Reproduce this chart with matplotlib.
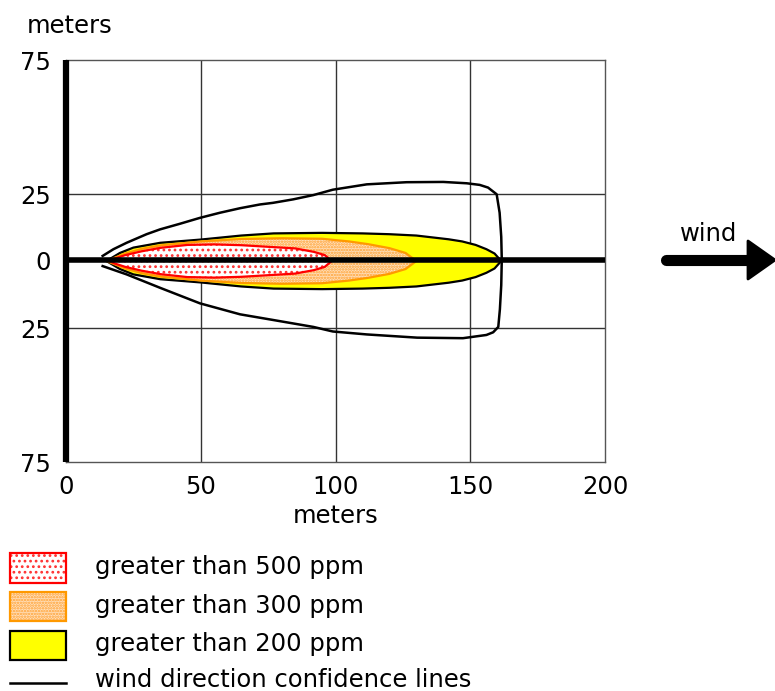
import matplotlib
matplotlib.use("Agg")
import matplotlib.pyplot as plt
from matplotlib.patches import Rectangle, Polygon
import numpy as np

# ---- data ----
red_x = [16, 18, 22, 28, 35, 45, 55, 65, 75, 85, 92, 96, 98.6]
red_hw = [0, 0.9, 2.2, 3.6, 4.9, 6.0, 6.2, 5.9, 5.3, 4.7, 3.4, 2.2, 0]

orange_x = [15, 18, 22, 28, 35, 50, 65, 80, 95, 105, 112, 120, 126, 130]
orange_hw = [0, 1.2, 2.8, 4.5, 5.8, 7.3, 8.2, 8.5, 8.3, 7.3, 6.3, 4.8, 3.0, 0]

yellow_x = [15, 20, 25, 35, 50, 65, 77, 95, 110, 120, 130, 136, 142, 147, 152, 156, 159, 161.5]
yellow_hw = [0, 3.0, 5.0, 6.8, 8.0, 9.5, 10.3, 10.5, 10.3, 10.0, 9.5, 8.8, 8.1, 7.3, 6.0, 4.4, 2.8, 0]

conf_x = [13.6, 17.6, 22.5, 29.9, 34.9, 42.3, 49.7, 57.1, 64.6, 72, 76.8, 84.3, 91.8, 99,
          111.6, 126.4, 140, 148.7, 153.5, 156.6, 159.8, 160.9, 161.5, 161.7,
          161.5, 161.0, 160.4, 158.5, 156.0, 147.3, 130.3, 111.6, 99, 91.8, 76.8, 64.6,
          49.7, 34.9, 22.5, 13.6]
conf_y = [1.9, 4.4, 6.8, 10.0, 11.8, 13.9, 16.1, 18.0, 19.7, 21.1, 21.7, 23.0, 24.6, 26.6,
          28.6, 29.4, 29.5, 29.0, 28.4, 27.4, 24.9, 18, 9, 0.5,
          -9, -18, -24.6, -26.6, -27.6, -28.8, -28.6, -27.4, -26.3, -24.6, -22.0, -19.9,
          -15.8, -10.0, -5.0, -1.9]

x_ticks = [0, 50, 100, 150, 200]
x_ticklabels = ["0", "50", "100", "150", "200"]
y_ticks = [75, 25, 0, -25, -75]
y_ticklabels = ["75", "25", "0", "25", "75"]

legend_labels = ["greater than 500 ppm", "greater than 300 ppm",
                 "greater than 200 ppm", "wind direction confidence lines"]

plt.rcParams['font.family'] = ['DejaVu Sans']
plt.rcParams['hatch.linewidth'] = 1.2
FS = 17.5

W, H = 775, 691
fig = plt.figure(figsize=(W / 100, H / 100), dpi=100)
ax = fig.add_axes([66 / W, 1 - 462 / H, (605 - 66) / W, (462 - 60) / H])
ax.set_xlim(0, 200)
ax.set_ylim(-75, 75)

def zone(xs, hw):
    xs = np.asarray(xs, float)
    hw = np.asarray(hw, float)
    px = np.concatenate([xs, xs[::-1]])
    py = np.concatenate([hw, -hw[::-1]])
    return np.column_stack([px, py])

# grid
for gx in [50, 100, 150]:
    ax.axvline(gx, color='#333333', lw=1.0, zorder=1)
for gy in [25, -25]:
    ax.axhline(gy, color='#333333', lw=1.0, zorder=1)

# yellow zone
yp = zone(yellow_x, yellow_hw)
ax.add_patch(Polygon(yp, closed=True, facecolor='#FFFF00', edgecolor='black', lw=1.6, zorder=2))
# orange zone
op = zone(orange_x, orange_hw)
ax.add_patch(Polygon(op, closed=True, facecolor='#FFE0BC', edgecolor='none', lw=0, zorder=3))
ax.add_patch(Polygon(op, closed=True, facecolor='none', edgecolor='#FFA030', lw=0,
                     hatch='......', zorder=3.1))
ax.add_patch(Polygon(op, closed=True, facecolor='none', edgecolor='#FF9900', lw=1.6, zorder=3.2))
# red zone
rp = zone(red_x, red_hw)
ax.add_patch(Polygon(rp, closed=True, facecolor='white', edgecolor='none', lw=0, zorder=4))
ax.add_patch(Polygon(rp, closed=True, facecolor='none', edgecolor='#FF3030', lw=0,
                     hatch='...', zorder=4.1))
ax.add_patch(Polygon(rp, closed=True, facecolor='none', edgecolor='#FF0000', lw=1.6, zorder=4.2))

# confidence lines
ax.plot(conf_x, conf_y, color='black', lw=1.8, zorder=5, solid_joinstyle='round')

# axes lines
ax.plot([0, 200], [0.4, 0.4], color='black', lw=4, zorder=6, solid_capstyle='butt')
ax.plot([0, 0], [75, -75], color='black', lw=4.5, zorder=6, clip_on=False, solid_capstyle='butt')

for s in ax.spines.values():
    s.set_color('#555555')
    s.set_linewidth(1.0)

ax.set_xticks(x_ticks)
ax.set_xticklabels(x_ticklabels)
ax.set_yticks(y_ticks)
ax.set_yticklabels(y_ticklabels)
ax.tick_params(length=0, labelsize=FS)
ax.tick_params(axis='x', pad=9)
ax.tick_params(axis='y', pad=11)
ax.set_xlabel("meters", fontsize=FS, labelpad=4)

# overlay in figure pixel coords
ov = fig.add_axes([0, 0, 1, 1], zorder=-1)
ov.set_xlim(0, W)
ov.set_ylim(H, 0)
ov.axis('off')
ov.patch.set_alpha(0)

ov.text(70, 26, "meters", fontsize=FS, ha='center', va='center')

# wind arrow
ov.plot([666, 752], [260, 260], color='black', lw=8, solid_capstyle='round')
ov.add_patch(Polygon([[748, 241], [775, 260], [748, 279]], closed=True,
                     facecolor='black', edgecolor='black', lw=2, joinstyle='round'))
ov.text(709, 234, "wind", fontsize=FS, ha='center', va='center')

# legend
ly = [567, 606, 644, 680]
ov.add_patch(Rectangle((10, 553), 56, 30, facecolor='white', edgecolor='none'))
ov.add_patch(Rectangle((10, 553), 56, 30, facecolor='none', edgecolor='#FF3030', lw=0, hatch='...'))
ov.add_patch(Rectangle((10, 553), 56, 30, facecolor='none', edgecolor='#FF0000', lw=1.6))
ov.add_patch(Rectangle((10, 592), 56, 29, facecolor='#FFE0BC', edgecolor='none'))
ov.add_patch(Rectangle((10, 592), 56, 29, facecolor='none', edgecolor='#FFA030', lw=0, hatch='......'))
ov.add_patch(Rectangle((10, 592), 56, 29, facecolor='none', edgecolor='#FF9900', lw=1.6))
ov.add_patch(Rectangle((10, 631), 56, 29, facecolor='#FFFF00', edgecolor='black', lw=1.6))
ov.plot([10, 66], [683, 683], color='black', lw=1.8)
for yy, lab in zip(ly, legend_labels):
    ov.text(95, yy, lab, fontsize=FS, ha='left', va='center')

fig.savefig("out.png", dpi=100)
